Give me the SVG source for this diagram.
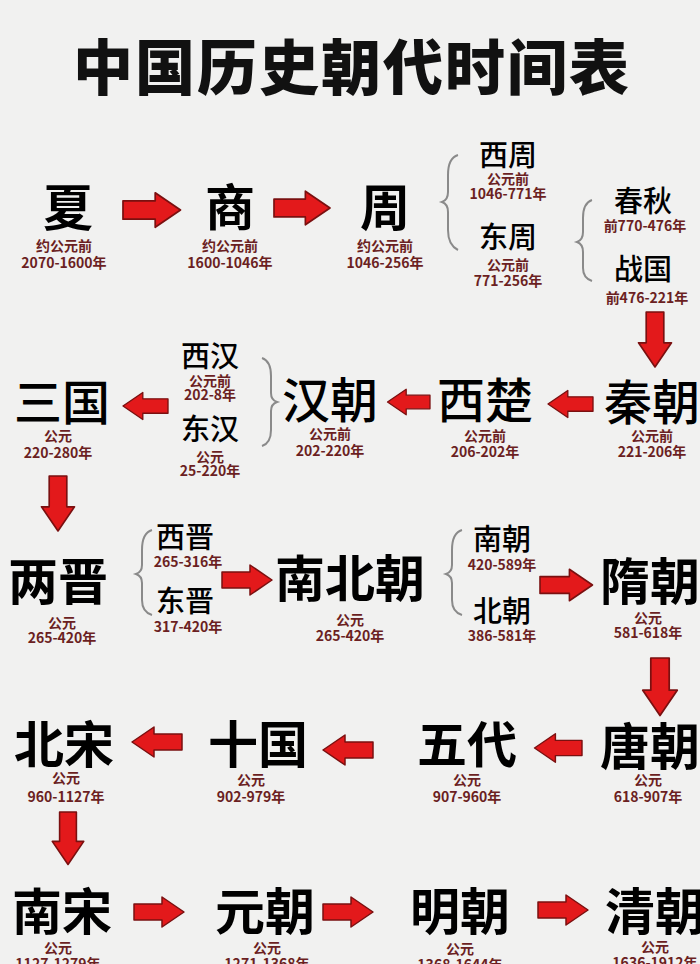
<svg xmlns="http://www.w3.org/2000/svg" width="700" height="964" viewBox="0 0 700 964">
<style>
text{font-family:"Noto Sans CJK SC","Noto Sans",sans-serif;text-anchor:middle}
.t{font-size:50px;font-weight:700;fill:#000}
.m{font-size:48px;font-weight:500;fill:#000}
.s{font-size:29px;font-weight:500;fill:#000}
.d{font-size:14px;font-weight:700;fill:#6b1f22}
.b{fill:none;stroke:#8a8a8a;stroke-width:2}
</style>
<defs>
<path id="ar" d="M0,-8 H28 V-15 L50,0 L28,15 V8 H0 Z" fill="#e3191b" stroke="#7a1010" stroke-width="1.5" stroke-linejoin="round"/>
</defs>
<rect width="700" height="964" fill="#f1f1f0"/>
<text x="352" y="90" style="font-size:60px;font-weight:900;fill:#111;letter-spacing:2px">中国历史朝代时间表</text>
<g id="connectors">
<use href="#ar" transform="translate(123,210) scale(1.15)"/>
<use href="#ar" transform="translate(274,208) scale(1.12)"/>
<use href="#ar" transform="translate(655,312) rotate(90) scale(1.1)"/>
<use href="#ar" transform="translate(593,404) rotate(180) scale(0.9)"/>
<use href="#ar" transform="translate(430,402) rotate(180) scale(0.85)"/>
<use href="#ar" transform="translate(168,406) rotate(180) scale(0.9)"/>
<use href="#ar" transform="translate(58,476) rotate(90) scale(1.1)"/>
<use href="#ar" transform="translate(222,580) scale(1)"/>
<use href="#ar" transform="translate(540,585) scale(1.05)"/>
<use href="#ar" transform="translate(660,658) rotate(90) scale(1.15)"/>
<use href="#ar" transform="translate(582,748) rotate(180) scale(0.95)"/>
<use href="#ar" transform="translate(373,750) rotate(180) scale(1)"/>
<use href="#ar" transform="translate(182,742) rotate(180) scale(1)"/>
<use href="#ar" transform="translate(68,812) rotate(90) scale(1.05)"/>
<use href="#ar" transform="translate(134,912) scale(1)"/>
<use href="#ar" transform="translate(323,912) scale(1)"/>
<use href="#ar" transform="translate(538,910) scale(1)"/>
<path class="b" d="M458,155 Q448,158 448,175 V192 Q448,200 442,202 Q448,204 448,212 V230 Q448,245 458,250"/>
<path class="b" d="M592,200 Q583,203 583,218 V232 Q583,240 577,242 Q583,244 583,252 V268 Q583,278 592,281"/>
<path class="b" d="M262,358 Q271,361 271,376 V393 Q271,400 277,402 Q271,404 271,411 V430 Q271,443 262,446"/>
<path class="b" d="M152,530 Q142,533 142,550 V565 Q142,572 136,574 Q142,576 142,583 V600 Q142,612 152,615"/>
<path class="b" d="M462,530 Q452,533 452,550 V565 Q452,572 446,574 Q452,576 452,583 V600 Q452,612 462,615"/>
</g>
<g id="xia"><text class="t" x="68" y="226">夏</text><text class="d" x="64" y="251">约公元前</text><text class="d" x="64" y="268">2070-1600年</text></g>
<g id="shang"><text class="t" x="230" y="226">商</text><text class="d" x="230" y="251">约公元前</text><text class="d" x="230" y="268">1600-1046年</text></g>
<g id="zhou"><text class="t" x="385" y="226">周</text><text class="d" x="385" y="251">约公元前</text><text class="d" x="385" y="268">1046-256年</text></g>
<g id="xizhou"><text class="s" x="508" y="166">西周</text><text class="d" x="508" y="184">公元前</text><text class="d" x="508" y="199">1046-771年</text></g>
<g id="dongzhou"><text class="s" x="508" y="248">东周</text><text class="d" x="508" y="270">公元前</text><text class="d" x="508" y="286">771-256年</text></g>
<g id="chunqiu"><text class="s" x="643" y="212">春秋</text><text class="d" x="645" y="231">前770-476年</text></g>
<g id="zhanguo"><text class="s" x="643" y="280">战国</text><text class="d" x="647" y="303">前476-221年</text></g>
<g id="qin"><text class="m" x="652" y="420">秦朝</text><text class="d" x="652" y="441">公元前</text><text class="d" x="652" y="457">221-206年</text></g>
<g id="xichu"><text class="m" x="485" y="418">西楚</text><text class="d" x="485" y="441">公元前</text><text class="d" x="485" y="457">206-202年</text></g>
<g id="han"><text class="m" x="330" y="418">汉朝</text><text class="d" x="330" y="439">公元前</text><text class="d" x="330" y="456">202-220年</text></g>
<g id="xihan"><text class="s" x="210" y="367">西汉</text><text class="d" x="210" y="386">公元前</text><text class="d" x="210" y="400">202-8年</text></g>
<g id="donghan"><text class="s" x="210" y="440">东汉</text><text class="d" x="210" y="462">公元</text><text class="d" x="210" y="476">25-220年</text></g>
<g id="sanguo"><text class="m" x="62" y="420">三国</text><text class="d" x="58" y="441">公元</text><text class="d" x="58" y="458">220-280年</text></g>
<g id="liangjin"><text class="t" x="58" y="600">两晋</text><text class="d" x="62" y="628">公元</text><text class="d" x="62" y="643">265-420年</text></g>
<g id="xijin"><text class="s" x="185" y="548">西晋</text><text class="d" x="188" y="567">265-316年</text></g>
<g id="dongjin"><text class="s" x="185" y="612">东晋</text><text class="d" x="188" y="632">317-420年</text></g>
<g id="nanbeichao"><text class="t" x="350" y="597">南北朝</text><text class="d" x="350" y="625">公元</text><text class="d" x="350" y="641">265-420年</text></g>
<g id="nanchao"><text class="s" x="502" y="550">南朝</text><text class="d" x="502" y="570">420-589年</text></g>
<g id="beichao"><text class="s" x="502" y="622">北朝</text><text class="d" x="502" y="641">386-581年</text></g>
<g id="sui"><text class="t" x="650" y="600">隋朝</text><text class="d" x="648" y="623">公元</text><text class="d" x="648" y="638">581-618年</text></g>
<g id="tang"><text class="t" x="650" y="765">唐朝</text><text class="d" x="648" y="785">公元</text><text class="d" x="648" y="802">618-907年</text></g>
<g id="wudai"><text class="t" x="467" y="763">五代</text><text class="d" x="467" y="785">公元</text><text class="d" x="467" y="802">907-960年</text></g>
<g id="shiguo"><text class="t" x="258" y="763">十国</text><text class="d" x="251" y="785">公元</text><text class="d" x="251" y="802">902-979年</text></g>
<g id="beisong"><text class="t" x="64" y="763">北宋</text><text class="d" x="66" y="783">公元</text><text class="d" x="66" y="802">960-1127年</text></g>
<g id="nansong"><text class="t" x="62" y="930">南宋</text><text class="d" x="58" y="953">公元</text><text class="d" x="58" y="969">1127-1279年</text></g>
<g id="yuan"><text class="t" x="265" y="930">元朝</text><text class="d" x="267" y="953">公元</text><text class="d" x="267" y="969">1271-1368年</text></g>
<g id="ming"><text class="t" x="460" y="930">明朝</text><text class="d" x="460" y="954">公元</text><text class="d" x="460" y="970">1368-1644年</text></g>
<g id="qing"><text class="t" x="655" y="930">清朝</text><text class="d" x="655" y="952">公元</text><text class="d" x="655" y="968">1636-1912年</text></g>
</svg>
